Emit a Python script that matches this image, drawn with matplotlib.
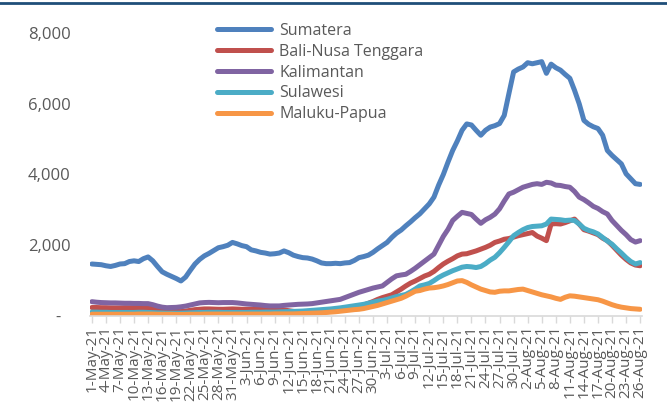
import numpy as np
import pandas as pd
import matplotlib
matplotlib.use('Agg')
import matplotlib.pyplot as plt
from matplotlib.lines import Line2D
from matplotlib.transforms import ScaledTranslation

plt.rcParams['font.family'] = ['Open Sans', 'DejaVu Sans']

# daily values, 1 May 2021 - 26 Aug 2021
dates = pd.date_range('2021-05-01', '2021-08-26', freq='D')

sumatera = [
    1470, 1460, 1450, 1420, 1400, 1430, 1470, 1480, 1540, 1560,
    1540, 1620, 1670, 1560, 1400, 1250, 1180, 1120, 1060, 990,
    1100, 1290, 1470, 1600, 1700, 1770, 1850, 1930, 1960, 2000,
    2080, 2040, 1990, 1960, 1870, 1840, 1800, 1780, 1750, 1760,
    1780, 1840, 1790, 1720, 1680, 1650, 1640, 1610, 1560, 1500,
    1480, 1480, 1490, 1480, 1500, 1510, 1570, 1650, 1680, 1720,
    1800, 1900, 1990, 2080, 2220, 2340, 2430, 2550, 2660, 2780,
    2890, 3030, 3170, 3360, 3700, 4000, 4350, 4680, 4950, 5250,
    5430, 5400, 5250, 5110, 5250, 5340, 5380, 5440, 5670, 6290,
    6900, 6980, 7040, 7160, 7130, 7160, 7190, 6860, 7120, 7020,
    6950, 6830, 6720, 6380, 6000, 5530, 5420, 5350, 5300, 5110,
    4680, 4540, 4420, 4300, 4020, 3880, 3740, 3720,
]
bali_nusa = [
    240, 240, 235, 235, 230, 230, 230, 235, 235, 235,
    240, 235, 230, 210, 180, 160, 150, 140, 130, 125,
    140, 160, 180, 190, 200, 200, 195, 190, 190, 195,
    200, 195, 190, 190, 190, 185, 185, 190, 190, 190,
    185, 170, 150, 130, 115, 105, 100, 100, 105, 110,
    120, 130, 140, 160, 180, 200, 230, 270, 310, 360,
    410, 470, 520, 560, 600, 680, 760, 850, 930, 990,
    1060, 1130, 1180, 1260, 1370, 1470, 1550, 1620, 1700, 1750,
    1760, 1800, 1840, 1890, 1940, 2000, 2080, 2120, 2170, 2190,
    2230, 2270, 2300, 2330, 2360, 2260, 2200, 2130, 2600, 2610,
    2600, 2640, 2690, 2740, 2600, 2440, 2400, 2350, 2300, 2200,
    2130, 2000, 1860, 1720, 1600, 1500, 1440, 1420,
]
kalimantan = [
    405, 390, 380, 375, 370, 370, 365, 360, 360, 355,
    355, 350, 350, 320, 280, 250, 235, 240, 245, 260,
    280, 310, 340, 370, 380, 385, 380, 375, 380, 380,
    380, 370, 355, 340, 330, 320, 310, 295, 285, 285,
    285, 300, 310, 320, 330, 335, 340, 350, 370, 390,
    410, 430, 450, 470, 520, 570, 620, 670, 710, 750,
    790, 820, 850, 950, 1050, 1135, 1160, 1180, 1260, 1350,
    1450, 1550, 1650, 1750, 2000, 2250, 2450, 2700, 2820, 2930,
    2900, 2870, 2740, 2620, 2720, 2790, 2880, 3030, 3250, 3450,
    3500, 3570, 3640, 3680, 3720, 3740, 3720, 3780, 3760, 3700,
    3690, 3660, 3640, 3520, 3360, 3290, 3200, 3100, 3040, 2950,
    2885, 2700, 2560, 2420, 2300, 2160, 2090, 2130,
]
sulawesi = [
    110, 110, 105, 105, 100, 100, 100, 100, 100, 100,
    105, 105, 100, 95, 90, 85, 80, 80, 80, 80,
    85, 90, 95, 100, 100, 105, 105, 105, 100, 100,
    100, 100, 100, 100, 105, 105, 105, 110, 110, 110,
    115, 120, 125, 130, 135, 140, 150, 160, 170, 180,
    190, 200, 215, 230, 250, 270, 290, 310, 330, 360,
    390, 420, 440, 470, 510, 550, 580, 610, 680, 760,
    850, 880, 920, 1000, 1090, 1160, 1220, 1280, 1330, 1380,
    1400, 1390, 1370, 1400, 1480, 1580, 1660, 1790, 1940, 2100,
    2270, 2360, 2440, 2500, 2530, 2540, 2550, 2600, 2740, 2730,
    2720, 2700, 2710, 2700, 2600, 2480, 2420, 2380, 2320, 2220,
    2120, 2030, 1900, 1780, 1650, 1540, 1470, 1510,
]
maluku_papua = [
    50, 50, 50, 50, 50, 50, 50, 50, 50, 50,
    55, 55, 55, 55, 50, 50, 50, 50, 45, 45,
    45, 50, 50, 50, 55, 55, 55, 55, 55, 55,
    55, 55, 55, 55, 55, 55, 55, 55, 55, 60,
    60, 60, 60, 60, 65, 70, 75, 80, 85, 90,
    100, 110, 120, 135, 150, 165, 180, 190, 210, 240,
    270, 300, 340, 380, 420, 460, 500, 560, 630, 700,
    720, 760, 790, 800, 820, 850, 890, 940, 990, 1000,
    950, 880, 820, 760, 720, 680, 670, 700, 710, 710,
    730, 750, 760, 720, 680, 640, 600, 570, 540, 500,
    470, 530, 570, 560, 540, 520, 500, 480, 460, 420,
    370, 320, 280, 250, 230, 210, 200, 190,
]

series_names = ['Sumatera', 'Bali-Nusa Tenggara', 'Kalimantan', 'Sulawesi', 'Maluku-Papua']
series_values = [sumatera, bali_nusa, kalimantan, sulawesi, maluku_papua]
series_colors = ['#4F81BD', '#C0504D', '#8064A2', '#4BACC6', '#F79646']

y_ticks = [0, 2000, 4000, 6000, 8000]
tick_step = 3

text_grey = '#595959'
axis_grey = '#D9D9D9'

fig = plt.figure(figsize=(6.67, 4.12), dpi=100)
ax = fig.add_axes([90 / 667, 1 - 316 / 412, 552 / 667, (316 - 33) / 412])

x = np.arange(len(dates))
for name, vals, col in zip(series_names, series_values, series_colors):
    ax.plot(x, vals, color=col, lw=3.6, solid_capstyle='round',
            solid_joinstyle='round', label=name)

ax.set_xlim(-0.4, len(dates) - 0.6)
ax.set_ylim(0, 8000)

# y axis: accounting style labels, no spine
ax.set_yticks(y_ticks)
ax.set_yticklabels(['-' if v == 0 else f'{v:,}' for v in y_ticks])
ax.tick_params(axis='y', length=0, pad=14, labelsize=12, labelcolor=text_grey)
zero_lbl = ax.get_yticklabels()[0]
zero_lbl.set_transform(zero_lbl.get_transform() + ScaledTranslation(-10 / 100, 0, fig.dpi_scale_trans))

# category axis, every third day
ticks = x[::tick_step]
ax.set_xticks(ticks)
ax.set_xticklabels([f'{d.day}-{d.strftime("%b")}-21' for d in dates[::tick_step]],
                   rotation=90)
ax.tick_params(axis='x', length=5, width=1, color=axis_grey, pad=2,
               labelsize=11, labelcolor=text_grey)

for side in ['top', 'right', 'left']:
    ax.spines[side].set_visible(False)
ax.spines['bottom'].set_color(axis_grey)
ax.spines['bottom'].set_linewidth(1.2)

leg = ax.legend(loc='upper left', bbox_to_anchor=(209 / 667, 1 - 15 / 412),
                bbox_transform=fig.transFigure, frameon=False, borderpad=0,
                handlelength=3.4, handletextpad=0.5, labelspacing=0.3,
                fontsize=11.5)
for t in leg.get_texts():
    t.set_color(text_grey)

# dark rule along the top edge
fig.add_artist(Line2D([0, 1], [1 - 2.5 / 412, 1 - 2.5 / 412], transform=fig.transFigure,
                      color='#1F4E79', lw=2))

fig.savefig('out.png', dpi=100)
